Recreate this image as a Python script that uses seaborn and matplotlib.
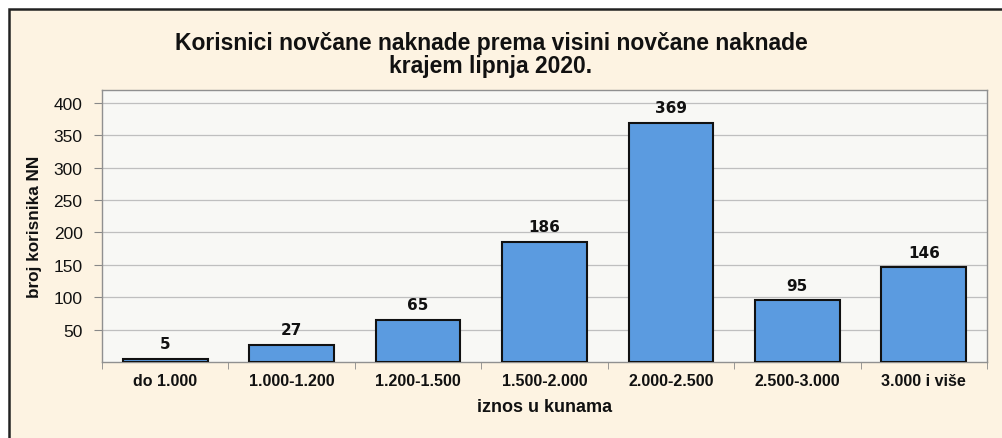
import seaborn as sns
import matplotlib.pyplot as plt
import matplotlib.patches as mpatches
import pandas as pd

kategorije = ['do 1.000', '1.000-1.200', '1.200-1.500', '1.500-2.000',
              '2.000-2.500', '2.500-3.000', '3.000 i više']
korisnici = [5, 27, 65, 186, 369, 95, 146]
y_ticks = [50, 100, 150, 200, 250, 300, 350, 400]

df = pd.DataFrame({'iznos': kategorije, 'broj': korisnici})

sns.set_style('white')
plt.rcParams['font.family'] = ['Liberation Sans', 'DejaVu Sans']

fig = plt.figure(figsize=(10.02, 4.39), dpi=100)
fig.patch.set_facecolor('white')

# okvir grafikona
okvir = mpatches.Rectangle((9 / 1002, -0.05), 1.2, 1 - 10 / 439 + 0.05,
                           transform=fig.transFigure, facecolor='#FDF3E2',
                           edgecolor='#222222', linewidth=1.8, zorder=-10)
fig.patches.append(okvir)

ax = fig.add_axes([102 / 1002, 76 / 439, 885 / 1002, 272 / 439])
ax.set_facecolor('#F8F8F5')

sns.barplot(data=df, x='iznos', y='broj', color='#5B9BE0', width=0.67,
            edgecolor='#111111', linewidth=1.5, saturation=1, ax=ax, zorder=3)

for i, v in enumerate(korisnici):
    ax.text(i, v + 12, str(v), ha='center', va='bottom', fontsize=11,
            fontweight='bold', family='DejaVu Sans', color='#111111')

ax.set_ylim(0, 420)
ax.set_xlim(-0.5, len(kategorije) - 0.5)
ax.set_yticks(y_ticks)
ax.set_yticklabels([str(t) for t in y_ticks], fontsize=12.5, color='#111111')
ax.yaxis.grid(True, color='#BFBFBF', linewidth=0.9, zorder=0)
ax.set_axisbelow(True)

ax.set_xticks(range(len(kategorije)))
ax.set_xticklabels(kategorije, fontsize=11.5, fontweight='bold', color='#111111')
ax.set_xticks([i - 0.5 for i in range(len(kategorije) + 1)], minor=True)
ax.tick_params(axis='x', which='major', length=0, pad=8)
ax.tick_params(axis='x', which='minor', length=5, color='#888888', direction='out', bottom=True)
ax.tick_params(axis='y', length=6, color='#888888', direction='out', left=True, pad=8)

for s in ['top', 'right', 'left', 'bottom']:
    ax.spines[s].set_color('#909090')
    ax.spines[s].set_linewidth(1.0)

ax.set_xlabel('iznos u kunama', fontsize=13, fontweight='bold', labelpad=7, color='#111111')
ax.set_ylabel('broj korisnika NN', fontsize=12.3, fontweight='bold', labelpad=8, color='#111111')

fig.text(0.49, 1 - 55 / 439, 'Korisnici novčane naknade prema visini novčane naknade\nkrajem lipnja 2020.',
         ha='center', va='center', fontsize=16.5, fontweight='bold',
         linespacing=1.0, color='#111111')

fig.savefig('out.png', dpi=100)
